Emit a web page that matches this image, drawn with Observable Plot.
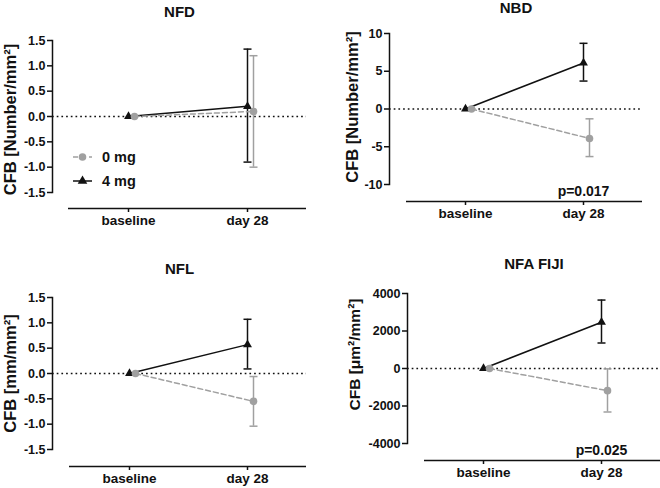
<!DOCTYPE html>
<html><head><meta charset="utf-8">
<script src="https://cdn.jsdelivr.net/npm/d3@7"></script>
<script src="https://cdn.jsdelivr.net/npm/@observablehq/plot@0.6"></script>
<style>
body{margin:0;background:#fff;}
#root{position:relative;width:660px;height:488px;font-family:"Liberation Sans",Arial,sans-serif;font-weight:bold;color:#111;}
.panel{position:absolute;}
#legend{position:absolute;left:70px;top:146px;}
</style></head><body><div id="root"></div>
<script>
// ---- data ----
const times = ["baseline", "day 28"];
const titles = ["NFD", "NBD", "NFL", "NFA FIJI"];
const yLabels = ["CFB [Number/mm²]", "CFB [Number/mm²]", "CFB [mm/mm²]", "CFB [μm²/mm²]"];
const yTicks = [
  [-1.5, -1.0, -0.5, 0, 0.5, 1.0, 1.5],
  [-10, -5, 0, 5, 10],
  [-1.5, -1.0, -0.5, 0, 0.5, 1.0, 1.5],
  [-4000, -2000, 0, 2000, 4000]
];
const tickDecimals = [1, 0, 1, 0];
// 0 mg (grey, dashed): [baseline, day 28]
const mean0 = [[0, 0.1], [0, -3.9], [0, -0.55], [0, -1180]];
const hi0   = [[null, 1.2], [null, -1.3], [null, -0.06], [null, -20]];
const lo0   = [[null, -1.0], [null, -6.3], [null, -1.04], [null, -2320]];
// 4 mg (black, solid)
const mean4 = [[0, 0.2], [0, 6.1], [0, 0.57], [0, 2470]];
const hi4   = [[null, 1.33], [null, 8.7], [null, 1.07], [null, 3650]];
const lo4   = [[null, -0.9], [null, 3.7], [null, 0.09], [null, 1360]];
const pValues = [null, "p=0.017", null, "p=0.025"];
const seriesNames = ["0 mg", "4 mg"];

// ---- layout ----
const layout = [
  {left: 0,   top: 0,   width: 330, height: 240, mL: 52, mR: 24, mT: 40, mB: 48, gap: 16, labelDx: -42, labelDy: 3,   labelSize: 16.5, titleDy: -28},
  {left: 330, top: 0,   width: 330, height: 240, mL: 59, mR: 18, mT: 33, mB: 56, gap: 17, labelDx: -37, labelDy: -2,  labelSize: 16.5, titleDy: -25},
  {left: 0,   top: 240, width: 330, height: 248, mL: 52, mR: 24, mT: 57, mB: 39, gap: 17, labelDx: -42, labelDy: 0,   labelSize: 16.5, titleDy: -28},
  {left: 330, top: 240, width: 330, height: 248, mL: 77, mR: 0,  mT: 53, mB: 45, gap: 17, labelDx: -52, labelDy: -14, labelSize: 15.5, titleDy: -29}
];
const BLACK = "#111111", GREY = "#a0a0a0", SW = 1.5, OFF = 6;
const FONT = '"Liberation Sans", Arial, sans-serif';

// horizontal cap symbol for error bars
const capSymbol = {
  draw(context, size) {
    const w = Math.sqrt(size / Math.PI);
    context.moveTo(-w, 0);
    context.lineTo(w, 0);
  }
};

function rows(i, mean, lo, hi) {
  return times.map((t, j) => ({t, v: mean[i][j], lo: lo[i][j], hi: hi[i][j]}));
}

function makePanel(i) {
  const L = layout[i];
  const r0 = rows(i, mean0, lo0, hi0), r4 = rows(i, mean4, lo4, hi4);
  const b0 = r0.filter(d => d.lo != null), b4 = r4.filter(d => d.lo != null);
  const yMin = yTicks[i][0], yMax = yTicks[i][yTicks[i].length - 1];
  const fmt = d => d.toFixed(tickDecimals[i]);
  const errMarks = (data, color, dx) => [
    Plot.ruleX(data, {x: "t", y1: "lo", y2: "hi", dx, stroke: color, strokeWidth: SW}),
    Plot.dot(data, {x: "t", y: "hi", dx, symbol: capSymbol, r: 4, fill: "none", stroke: color, strokeWidth: SW}),
    Plot.dot(data, {x: "t", y: "lo", dx, symbol: capSymbol, r: 4, fill: "none", stroke: color, strokeWidth: SW})
  ];
  const marks = [
    Plot.ruleY([0], {stroke: BLACK, strokeWidth: 1.7, strokeDasharray: "1.7,3"}),
    Plot.frame({anchor: "left", stroke: BLACK, strokeWidth: SW}),
    Plot.axisY({ticks: yTicks[i], tickFormat: fmt, tickSize: 5, tickPadding: 2, fontSize: 12.5, fontWeight: "bold", label: null, strokeWidth: SW}),
    Plot.ruleY([yMin], {dy: L.gap, insetLeft: L.gap, stroke: BLACK, strokeWidth: SW}),
    Plot.axisX({dy: L.gap, tickSize: 4, tickPadding: 3, fontSize: 13.5, fontWeight: "bold", label: null, strokeWidth: SW}),
    Plot.text([yLabels[i]], {frameAnchor: "left", textAnchor: "middle", lineAnchor: "middle", rotate: -90, dx: L.labelDx, dy: L.labelDy, fontSize: L.labelSize, fontWeight: "bold", fill: BLACK}),
    Plot.text([titles[i]], {frameAnchor: "top", textAnchor: "middle", lineAnchor: "middle", dy: L.titleDy, fontSize: 15, fontWeight: "bold", fill: BLACK}),
    // 4 mg
    Plot.line(r4, {x: "t", y: "v", stroke: BLACK, strokeWidth: SW}),
    ...errMarks(b4, BLACK, 0),
    Plot.dot(r4, {x: "t", y: "v", symbol: "triangle", r: 3.3, fill: BLACK, stroke: "none"}),
    // 0 mg
    Plot.line(r0, {x: "t", y: "v", dx: OFF, stroke: GREY, strokeWidth: SW, strokeDasharray: "5,3"}),
    ...errMarks(b0, GREY, OFF),
    Plot.dot(r0, {x: "t", y: "v", dx: OFF, symbol: "circle", r: 3.8, fill: GREY, stroke: "none"})
  ];
  if (pValues[i]) {
    marks.push(Plot.text([{t: times[1], v: yMin, label: pValues[i]}],
      {x: "t", y: "v", text: "label", dy: 7, fontSize: 14, fontWeight: "bold", fill: BLACK}));
  }
  const svg = Plot.plot({
    width: L.width, height: L.height,
    marginLeft: L.mL, marginRight: L.mR, marginTop: L.mT, marginBottom: L.mB,
    x: {type: "point", domain: times, padding: 0.5, insetLeft: L.gap},
    y: {domain: [yMin, yMax]},
    style: {fontFamily: FONT, fontWeight: "bold", color: BLACK, background: "transparent", overflow: "visible"},
    marks
  });
  svg.classList.add("panel");
  svg.style.left = L.left + "px";
  svg.style.top = L.top + "px";
  return svg;
}

const root = document.getElementById("root");
for (let i = 0; i < 4; i++) root.appendChild(makePanel(i));

// legend (inside NFD panel)
const ns = "http://www.w3.org/2000/svg";
const leg = document.createElementNS(ns, "svg");
leg.setAttribute("id", "legend");
leg.setAttribute("width", 90); leg.setAttribute("height", 50);
leg.innerHTML = `
  <line x1="3" x2="22" y1="11" y2="11" stroke="${GREY}" stroke-width="${SW}" stroke-dasharray="5,3"/>
  <circle cx="12.5" cy="11" r="3.8" fill="${GREY}"/>
  <text x="32" y="11" dy="0.35em" font-size="14.5" font-weight="bold" fill="${BLACK}" font-family='${FONT}'>${seriesNames[0]}</text>
  <line x1="3" x2="22" y1="35" y2="35" stroke="${BLACK}" stroke-width="${SW}"/>
  <path d="${d3.symbol(d3.symbolTriangle, 40)()}" transform="translate(12.5,35)" fill="${BLACK}"/>
  <text x="32" y="35" dy="0.35em" font-size="14.5" font-weight="bold" fill="${BLACK}" font-family='${FONT}'>${seriesNames[1]}</text>`;
root.appendChild(leg);
</script>
</body></html>
